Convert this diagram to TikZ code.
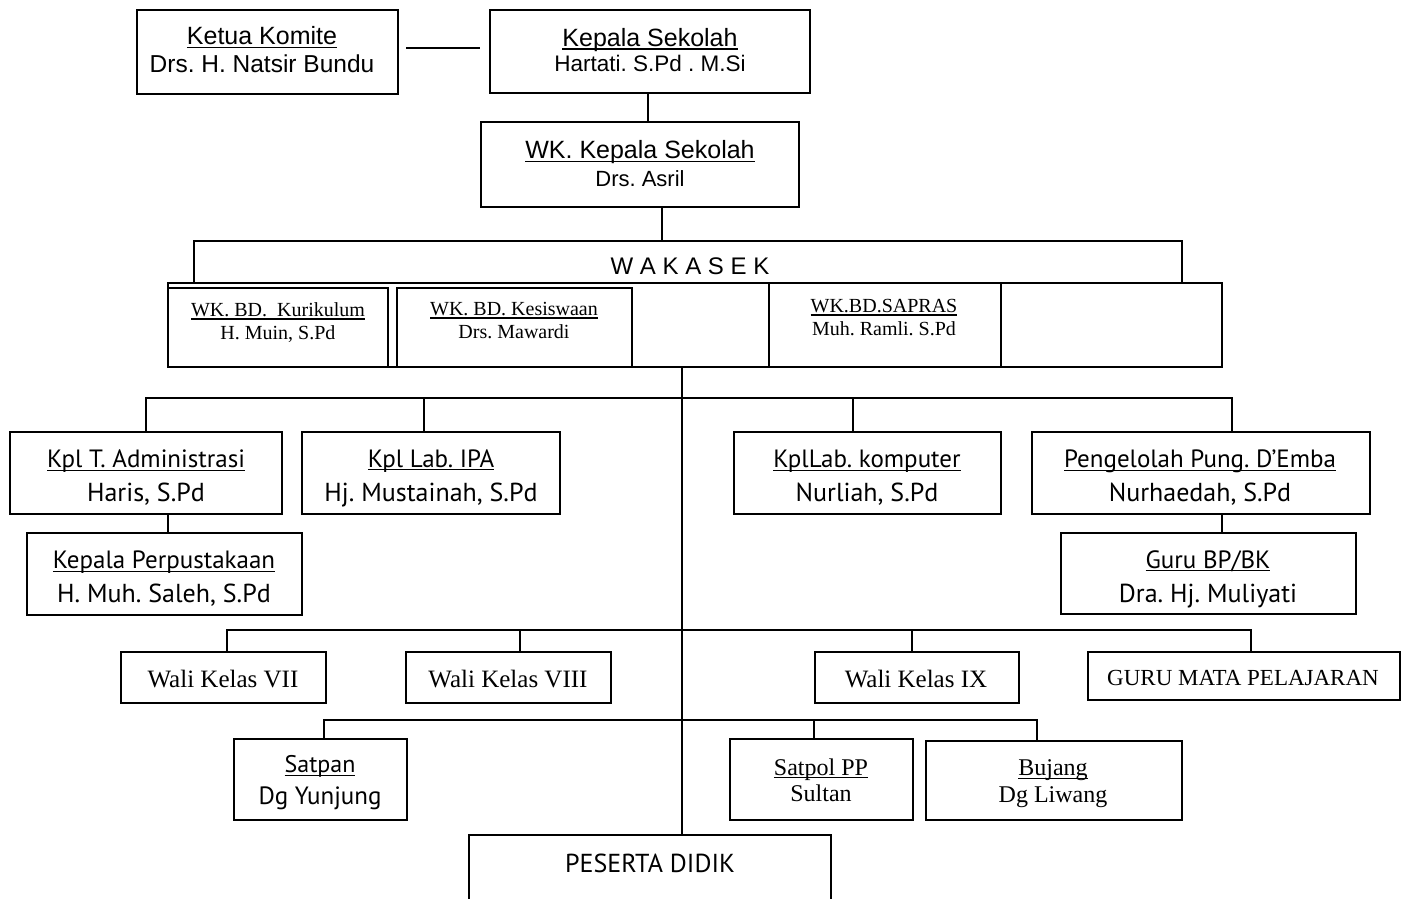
\documentclass[tikz,border=0pt]{standalone}
\usepackage{fontspec}
\usepackage{graphicx}
\usetikzlibrary{calc}
\newfontfamily\fa{Liberation Sans}
\newfontfamily\fp{PT Sans}
\newfontfamily\ft{Liberation Serif}
\newsavebox\ulbox
\newcommand\ulx[1]{\sbox\ulbox{#1}\rlap{\rule[-0.13em]{\wd\ulbox}{1.4pt}}\usebox\ulbox}
\newcommand\fz[2]{\fontsize{#1}{#2}\selectfont}
\frenchspacing
\begin{document}
\begin{tikzpicture}[x=1pt,y=-1pt,
  frame/.style={draw, line width=1.8pt, anchor=north west, inner sep=0pt, outer sep=0pt},
  conn/.style={line width=1.5pt},
  arialtxt/.style={align=center, inner sep=0pt, font={\fa\fz{25}{#1}}},
  pttxt/.style={align=center, inner sep=0pt, font={\fp\fz{25}{#1}}},
  sertxt/.style={align=center, inner sep=0pt, font={\ft\fz{20}{#1}}},
  serbig/.style={align=center, inner sep=0pt, font={\ft\fz{24}{#1}}}
]
\useasboundingbox (0,0) rectangle (1408,898);
\clip (0,0) rectangle (1408,898);

% top level
\node[frame, minimum width=261pt, minimum height=84pt] (ketua) at (137,10) {};
\node[arialtxt=28] (ketuat) at (262,50) {\ulx{Ketua Komite}\\{\fz{24.5}{28}Drs. H. Natsir Bundu}};
\node[frame, minimum width=320pt, minimum height=83pt] (ks) at (490,10) {};
\node[arialtxt=25] (kst) at (650,50) {\ulx{Kepala Sekolah}\\{\fz{22.5}{25}Hartati. S.Pd . M.Si}};
\node[frame, minimum width=318pt, minimum height=85pt] (wk) at (481,122) {};
\node[arialtxt=28] (wkt) at (640,164) {\ulx{WK. Kepala Sekolah}\\{\fz{22}{28}Drs. Asril}};

% wakasek
\node[anchor=north west, inner sep=0pt, outer sep=0pt, minimum width=988pt, minimum height=42pt] (wak) at (194,241) {};
\draw[conn] (wak.south west) -- (wak.north west) -- (wak.north east) -- (wak.south east);
\node[font={\fa\fz{24}{24}}, inner sep=0pt] (wakt) at (690,266) {W A K A S E K};

\node[frame, minimum width=1054pt, minimum height=84pt] (row) at (168,283) {};
\node[frame, minimum width=220pt, minimum height=79pt] (kur) at (168,288) {};
\node[frame, minimum width=235pt, minimum height=79pt] (kes) at (397,288) {};
\node[frame, minimum width=232pt, minimum height=84pt] (sap) at (769,283) {};
\node[frame, minimum width=221pt, minimum height=84pt] (emp) at (1001,283) {};
\node[sertxt=23] (kurt) at (278,323) {\ulx{WK. BD.\ \ Kurikulum}\\H. Muin, S.Pd};
\node[sertxt=23] (kest) at (514,321) {\ulx{WK. BD. Kesiswaan}\\Drs. Mawardi};
\node[sertxt=23] (sapt) at (884,318) {\ulx{WK.BD.SAPRAS}\\Muh. Ramli. S.Pd};

% second level
\node[frame, minimum width=272pt, minimum height=82pt] (adm) at (10,432) {};
\node[pttxt=34] (admt) at (146,478) {\ulx{Kpl T. Administrasi}\\{\fz{26}{34}Haris, S.Pd}};
\node[frame, minimum width=258pt, minimum height=82pt] (ipa) at (302,432) {};
\node[pttxt=34] (ipat) at (431,478) {\ulx{Kpl Lab. IPA}\\{\fz{26}{34}Hj. Mustainah, S.Pd}};
\node[frame, minimum width=267pt, minimum height=82pt] (komp) at (734,432) {};
\node[pttxt=34] (kompt) at (867,478) {\ulx{KplLab. komputer}\\{\fz{26}{34}Nurliah, S.Pd}};
\node[frame, minimum width=338pt, minimum height=82pt] (peng) at (1032,432) {};
\node[pttxt=34] (pengt) at (1200,478) {\ulx{Pengelolah Pung. D’Emba}\\{\fz{26}{34}Nurhaedah, S.Pd}};
\node[frame, minimum width=275pt, minimum height=82pt] (perp) at (27,533) {};
\node[pttxt=34] (perpt) at (164,579) {\ulx{Kepala Perpustakaan}\\{\fz{26}{34}H. Muh. Saleh, S.Pd}};
\node[frame, minimum width=295pt, minimum height=81pt] (bp) at (1061,533) {};
\begin{scope}
  \clip (1061,533) rectangle (1356,607);
  \node[pttxt=34] (bpt) at (1208,579) {\ulx{Guru BP/BK}\\{\fz{26}{34}Dra. Hj. Muliyati}};
\end{scope}

% wali kelas
\node[frame, minimum width=205pt, minimum height=51pt] (w7) at (121,652) {};
\node[serbig=25, font={\ft\fz{25}{25}}] (w7t) at (223,679) {Wali Kelas VII};
\node[frame, minimum width=205pt, minimum height=51pt] (w8) at (406,652) {};
\node[serbig=25, font={\ft\fz{25}{25}}] (w8t) at (508,679) {Wali Kelas VIII};
\node[frame, minimum width=204pt, minimum height=51pt] (w9) at (815,652) {};
\node[serbig=25, font={\ft\fz{25}{25}}] (w9t) at (916,679) {Wali Kelas IX};
\node[frame, minimum width=312pt, minimum height=48pt] (guru) at (1088,652) {};
\node[serbig=23, font={\ft\fz{23}{23}}] (gurut) at (1243,678) {GURU MATA PELAJARAN};

% staff
\node[frame, minimum width=173pt, minimum height=81pt] (satpan) at (234,739) {};
\node[pttxt=32, font={\fp\fz{24}{32}}] (satpant) at (320,783) {\ulx{Satpan}\\{\fz{25}{32}Dg Yunjung}};
\node[frame, minimum width=183pt, minimum height=81pt] (satpol) at (730,739) {};
\node[serbig=26] (satpolt) at (821,780) {\ulx{Satpol PP}\\Sultan};
\node[frame, minimum width=256pt, minimum height=79pt] (bujang) at (926,741) {};
\node[serbig=27] (bujangt) at (1053,784) {\ulx{Bujang}\\Dg Liwang};

\node[frame, minimum width=362pt, minimum height=100pt] (pes) at (469,835) {};
\node[font={\fp\fz{26}{26}}, inner sep=0pt] (pest) at (650,863) {PESERTA DIDIK};

% connectors
\coordinate (c1) at ($(ketua.east)+(8,-4)$);
\coordinate (c2) at ($(ks.west |- c1)+(-10,0)$);
\draw[conn] (c1) -- (c2);
\coordinate (a1) at ([xshift=-2pt]ks.south);
\draw[conn] (a1) -- (a1 |- wk.north);
\coordinate (a2) at ([xshift=22pt]wk.south);
\draw[conn] (a2) -- (a2 |- wak.north);
\coordinate (sp) at (682,367);
\draw[conn] (sp) -- (sp |- pes.north);

\coordinate (bus1) at (0,398);
\coordinate (bus2) at (0,630);
\coordinate (bus3) at (0,720);

\coordinate (d1) at (adm.north);
\coordinate (d2) at ([xshift=-7pt]ipa.north);
\coordinate (d3) at ([xshift=-14.5pt]komp.north);
\coordinate (d4) at ([xshift=31pt]peng.north);
\draw[conn] (d1) |- (d4 |- bus1) -- (d4);
\draw[conn] (d2) -- (d2 |- bus1);
\draw[conn] (d3) -- (d3 |- bus1);

\coordinate (e1) at ([xshift=22pt]adm.south);
\draw[conn] (e1) -- (e1 |- perp.north);
\coordinate (e2) at ([xshift=21pt]peng.south);
\draw[conn] (e2) -- (e2 |- bp.north);

\coordinate (f1) at ([xshift=3.5pt]w7.north);
\coordinate (f2) at ([xshift=11.5pt]w8.north);
\coordinate (f3) at ([xshift=-5pt]w9.north);
\coordinate (f4) at ([xshift=7pt]guru.north);
\draw[conn] (f1) |- (f4 |- bus2) -- (f4);
\draw[conn] (f2) -- (f2 |- bus2);
\draw[conn] (f3) -- (f3 |- bus2);

\coordinate (g1) at ([xshift=3.5pt]satpan.north);
\coordinate (g2) at ([xshift=-7.5pt]satpol.north);
\coordinate (g3) at ([xshift=-17pt]bujang.north);
\draw[conn] (g1) |- (g3 |- bus3) -- (g3);
\draw[conn] (g2) -- (g2 |- bus3);
\end{tikzpicture}
\end{document}
